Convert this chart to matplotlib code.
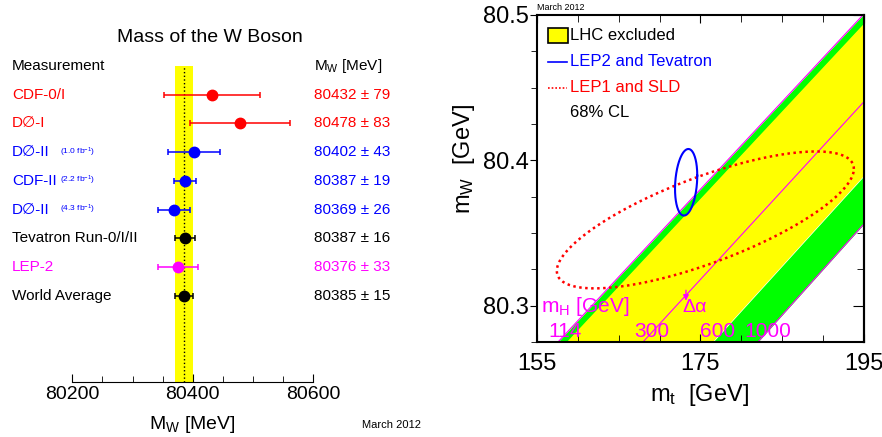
import numpy as np
import matplotlib
matplotlib.use("Agg")
import matplotlib.pyplot as plt
import matplotlib.transforms as mtransforms
from matplotlib.patches import Rectangle
from matplotlib.ticker import MultipleLocator

plt.rcParams['font.family'] = ['Liberation Sans', 'DejaVu Sans']
plt.rcParams['mathtext.fontset'] = 'custom'
plt.rcParams['mathtext.rm'] = 'Liberation Sans'
plt.rcParams['mathtext.it'] = 'Liberation Sans'
plt.rcParams['mathtext.default'] = 'rm'

# ---- left panel: W mass measurements
names = ["CDF-0/I", "D\u2205-I", "D\u2205-II", "CDF-II", "D\u2205-II",
         "Tevatron Run-0/I/II", "LEP-2", "World Average"]
lumi = ["", "", "(1.0 fb$^{-1}$)", "(2.2 fb$^{-1}$)", "(4.3 fb$^{-1}$)", "", "", ""]
mw = [80432, 80478, 80402, 80387, 80369, 80387, 80376, 80385]
mw_err = [79, 83, 43, 19, 26, 16, 33, 15]
colors = ["#ff0000", "#ff0000", "#0000ff", "#0000ff", "#0000ff",
          "black", "#ff00ff", "black"]
world_avg = 80385
world_err = 15

# ---- right panel: mt-mW plane
mt_edges = [155, 195]
# mW (GeV) of each mH line at mt = 155 and mt = 195
mw_at_edges = {114: [80.2595, 80.5007],
               127: [80.2529, 80.4939],
               300: [80.1957, 80.4403],
               600: [80.1418, 80.3892],
               1000: [80.1058, 80.3562]}
mh_labels = ["114", "300", "600", "1000"]
mh_label_mt = [158.4, 169.1, 177.1, 183.2]

lep1_center = (175.6, 80.359)
lep1_sigma = (18.17, 0.0471)
lep1_rho = 0.745
lep2_center = (173.25, 80.3849)
lep2_sigma = (1.36, 0.0229)
lep2_rho = 0.2


def contour(ax, c, s, rho, **kw):
    t = np.linspace(0, 2 * np.pi, 300)
    x = c[0] + s[0] * np.cos(t)
    y = c[1] + s[1] * (rho * np.cos(t) + np.sqrt(1 - rho ** 2) * np.sin(t))
    ax.plot(x, y, **kw)


fig = plt.figure(figsize=(8.82, 4.37), dpi=100)

# ================= left
ax1 = fig.add_axes([0.0820, 0.1265, 0.2732, 0.7225])
ax1.set_xlim(80200, 80600)
ax1.set_ylim(-3, 8)
for s in ["left", "right", "top"]:
    ax1.spines[s].set_visible(False)
ax1.set_yticks([])
ax1.set_xticks([80200, 80400, 80600])
ax1.xaxis.set_minor_locator(MultipleLocator(50))
ax1.tick_params(axis='x', which='major', direction='in', length=6, labelsize=14, pad=3)
ax1.tick_params(axis='x', which='minor', direction='in', length=4)

ax1.axvspan(world_avg - world_err, world_avg + world_err, color="#ffff00", lw=0)
ax1.axvline(world_avg, color="black", ls=":", lw=1)

trans = mtransforms.blended_transform_factory(ax1.transAxes, ax1.transData)
ax1.text(-0.25, 8, "Measurement", transform=trans, fontsize=11, va="center")
ax1.text(1.003, 8, "M$_W$ [MeV]", transform=trans, fontsize=11, va="center")
for i in range(len(names)):
    y = 7 - i
    ax1.errorbar(mw[i], y, xerr=mw_err[i], fmt="o", color=colors[i], ms=7.5,
                 elinewidth=1.1, capsize=2, capthick=1.1)
    ax1.text(-0.25, y, names[i], transform=trans, fontsize=11, color=colors[i], va="center")
    if lumi[i]:
        ax1.text(-0.052, y, lumi[i], transform=trans, fontsize=6, color=colors[i], va="center")
    ax1.text(1.003, y, f"{mw[i]} \u00b1 {mw_err[i]}", transform=trans, fontsize=11,
             color=colors[i], va="center")

ax1.text(0.497, -0.134, "M$_W$ [MeV]", transform=ax1.transAxes, fontsize=14,
         ha="center", va="center")
fig.text(210 / 882, 1 - 37 / 437, "Mass of the W Boson", fontsize=14, ha="center", va="center")
fig.text(362 / 882, 1 - 425 / 437, "March 2012", fontsize=8, va="center")

# ================= right
ax2 = fig.add_axes([0.6088, 0.2174, 0.3707, 0.7483])
ax2.set_xlim(155, 195)
ax2.set_ylim(80.275, 80.5)

x = np.array(mt_edges)
ax2.fill_between(x, mw_at_edges[114], mw_at_edges[127], color="#00ff00", lw=0)
ax2.fill_between(x, mw_at_edges[127], mw_at_edges[600], color="#ffff00", lw=0)
ax2.fill_between(x, mw_at_edges[600], mw_at_edges[1000], color="#00ff00", lw=0)
for mh in [114, 300, 1000]:
    ax2.plot(x, mw_at_edges[mh], color="#ff00ff", lw=0.8)

contour(ax2, lep1_center, lep1_sigma, lep1_rho, color="#ff0000", lw=1.8, ls=(0, (1, 1.4)))
contour(ax2, lep2_center, lep2_sigma, lep2_rho, color="#0000ff", lw=1.5)

ax2.text(155.5, 80.2991, "m$_H$ [GeV]", color="#ff00ff", fontsize=15, va="center")
for lab, xm in zip(mh_labels, mh_label_mt):
    ax2.text(xm, 80.2819, lab, color="#ff00ff", fontsize=15, ha="center", va="center")
ax2.annotate("", xy=(173.23, 80.3015), xytext=(173.23, 80.3125),
             arrowprops=dict(arrowstyle="-|>", color="#ff00ff", lw=1, mutation_scale=8))
ax2.text(174.3, 80.299, "\u0394\u03b1", color="#ff00ff", fontsize=14, ha="center", va="center")

ax2.set_xticks([155, 175, 195])
ax2.xaxis.set_minor_locator(MultipleLocator(5))
ax2.set_yticks([80.3, 80.4, 80.5])
ax2.set_yticklabels(["80.3", "80.4", "80.5"])
ax2.yaxis.set_minor_locator(MultipleLocator(0.025))
ax2.tick_params(axis='x', which='both', direction='in', top=True, labelsize=17, pad=8)
ax2.tick_params(axis='x', which='major', length=6)
ax2.tick_params(axis='x', which='minor', length=5)
ax2.tick_params(axis='y', which='both', direction='out', labelsize=17, pad=1)
ax2.tick_params(axis='y', which='major', length=5)
ax2.tick_params(axis='y', which='minor', length=4)
sec = ax2.secondary_yaxis('right')
sec.set_yticks([80.3, 80.4, 80.5])
sec.yaxis.set_minor_locator(MultipleLocator(0.025))
sec.tick_params(which='both', direction='in', labelright=False)
sec.tick_params(which='major', length=8)
sec.tick_params(which='minor', length=5)
for s in ax2.spines.values():
    s.set_linewidth(1.5)
sec.spines['right'].set_linewidth(1.5)

ax2.text(0.498, -0.162, "m$_t$  [GeV]", transform=ax2.transAxes, fontsize=17,
         ha="center", va="center")
ax2.text(-0.222, 0.56, "m$_W$  [GeV]", transform=ax2.transAxes, fontsize=17,
         ha="center", va="center", rotation=90)
fig.text(537 / 882, 1 - 8 / 437, "March 2012", fontsize=6.5, va="center")

# legend drawn by hand
ax2.add_patch(Rectangle((0.0327, 0.9153), 0.063, 0.044, transform=ax2.transAxes,
                        facecolor="#ffff00", edgecolor="black", lw=1.2))
ax2.text(0.1009, 0.9388, "LHC excluded", transform=ax2.transAxes, fontsize=12, va="center")
ax2.plot([0.0336, 0.0908], [0.8572, 0.8572], transform=ax2.transAxes, color="#0000ff", lw=1.2)
ax2.text(0.1009, 0.8572, "LEP2 and Tevatron", transform=ax2.transAxes, fontsize=12,
         va="center", color="#0000ff")
ax2.plot([0.0336, 0.0908], [0.7768, 0.7768], transform=ax2.transAxes, color="#ff0000",
         lw=1.2, ls=(0, (1, 1.2)))
ax2.text(0.1009, 0.7768, "LEP1 and SLD", transform=ax2.transAxes, fontsize=12,
         va="center", color="#ff0000")
ax2.text(0.1009, 0.7003, "68% CL", transform=ax2.transAxes, fontsize=12, va="center")

fig.savefig("out.png", dpi=100)
